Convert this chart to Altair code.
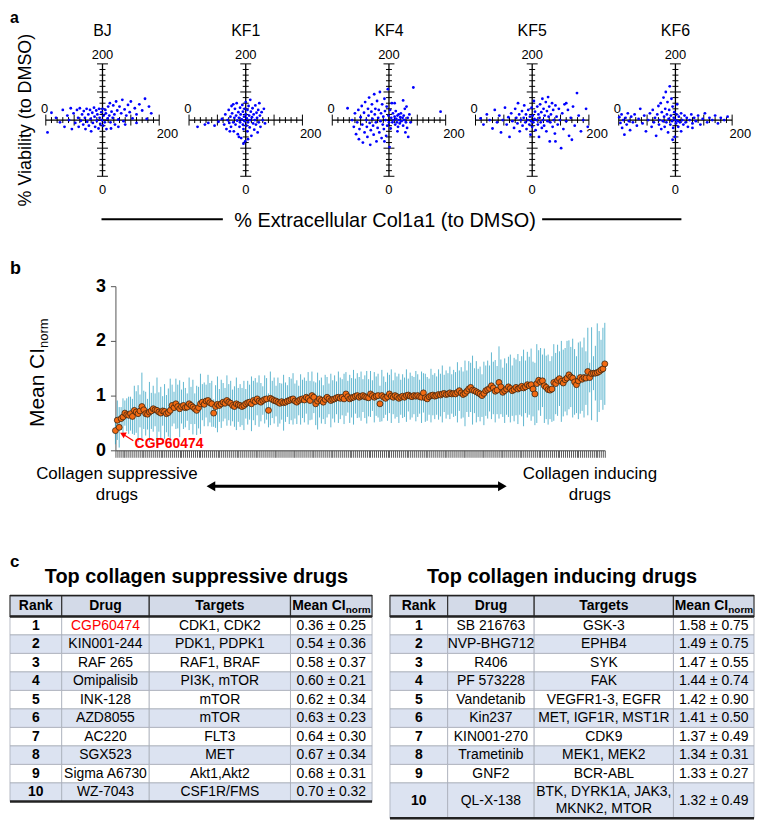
import altair as alt
import pandas as pd

FONT = "Liberation Sans"
ONE = pd.DataFrame({"k": [0]})

# ---------------- panel a : scatter data (x = % Col1a1, y = % viability) ----------------
panel_names = ["BJ", "KF1", "KF4", "KF5", "KF6"]
bj_pts = [(3,78),(10,113),(18,104),(25,96),(30,118),(33,88),(38,108),(41,100),(44,121),(46,84),(49,112),(52,95),
          (55,118),(57,104),(58,88),(60,121),(62,99),(64,110),(66,92),(67,116),(69,104),(70,84),(72,120),(73,97),
          (75,110),(76,90),(78,118),(79,102),(80,80),(82,113),(83,95),(85,122),(86,106),(87,88),(89,117),(90,99),
          (91,110),(93,85),(94,120),(95,104),(96,93),(98,114),(99,100),(100,120),(101,90),(102,108),(104,96),
          (105,118),(106,112),(107,84),(109,103),(110,124),(112,108),(113,130),(114,96),(116,115),(118,104),
          (119,126),(121,110),(122,92),(124,133),(126,117),(128,101),(130,124),(133,112),(135,136),(137,98),
          (139,119),(142,108),(145,127),(148,114),(150,133),(153,103),(157,121),(160,110),(165,128),(170,117),
          (175,138),(182,124),(186,112),(178,102),(160,95),(140,92),(128,88),(115,85)]
kf1_pts = [(15,88),(28,92),(34,95),(45,90),(52,97),(58,102),(62,92),(64,110),(66,84),(68,100),(70,118),(71,95),
           (73,106),(74,88),(75,125),(76,112),(78,96),(79,80),(80,104),(81,120),(82,92),(83,108),(84,130),(85,99),
           (86,75),(87,114),(88,104),(89,88),(90,122),(90,96),(91,110),(92,68),(93,101),(94,127),(95,92),(95,115),
           (96,84),(97,106),(98,120),(98,98),(99,62),(100,110),(100,132),(101,90),(102,103),(103,118),(103,80),
           (104,96),(105,125),(106,108),(107,87),(108,100),(109,115),(110,72),(111,105),(112,121),(113,94),
           (114,110),(115,83),(116,100),(117,126),(118,92),(119,113),(120,104),(121,78),(122,118),(123,96),
           (125,108),(126,88),(128,114),(130,100),(132,120),(134,94),(96,58),(88,70),(108,136),(124,130),
           (78,128),(104,66),(72,80)]
kf4_pts = [(27,121),(35,100),(38,88),(40,112),(42,75),(44,96),(46,118),(47,66),(48,84),(50,105),(52,125),(53,92),
           (54,60),(56,113),(57,78),(58,132),(60,100),(61,88),(62,70),(63,120),(64,108),(65,140),(66,95),(67,56),
           (68,82),(69,115),(70,128),(71,102),(72,90),(73,74),(74,146),(75,110),(76,120),(77,96),(78,62),(79,134),
           (80,86),(81,104),(82,118),(83,78),(84,150),(85,98),(86,112),(87,68),(88,128),(89,92),(90,106),(91,84),
           (92,138),(93,116),(94,100),(95,72),(96,124),(97,90),(98,155),(99,108),(100,96),(101,52),(102,118),
           (103,85),(104,104),(105,130),(106,96),(107,112),(108,100),(110,106),(111,92),(112,116),(113,102),
           (114,96),(115,108),(116,88),(117,110),(118,100),(119,94),(120,105),(121,112),(122,98),(124,104),
           (125,90),(126,108),(127,100),(128,120),(129,78),(130,96),(131,124),(132,86),(133,104),(134,70),
           (136,110),(138,96),(143,158),(191,115),(125,135),(110,130),(92,62),(115,80)]
kf5_pts = [(9,103),(14,92),(20,110),(25,100),(30,85),(34,118),(38,96),(42,108),(45,78),(48,100),(52,122),(55,92),
           (58,105),(60,70),(63,112),(65,98),(68,86),(70,120),(72,104),(74,94),(75,130),(77,110),(78,80),(80,100),
           (82,116),(83,90),(85,104),(86,126),(88,96),(89,110),(90,84),(92,100),(93,118),(95,92),(96,106),(97,74),
           (98,98),(99,122),(100,88),(101,108),(102,96),(103,134),(104,102),(105,115),(106,82),(108,100),(109,124),
           (110,92),(111,110),(112,70),(113,104),(114,128),(115,96),(116,114),(117,86),(118,138),(119,100),
           (120,120),(121,90),(122,108),(124,132),(125,80),(126,116),(127,98),(128,141),(129,106),(130,124),
           (131,62),(132,96),(133,110),(135,130),(136,88),(137,118),(138,100),(140,76),(141,126),(143,106),
           (145,92),(147,120),(149,100),(151,50),(153,112),(155,84),(157,128),(160,98),(163,118),(165,72),
           (168,104),(170,65),(172,124),(175,90),(179,148),(182,108),(186,80),(190,100),(195,120),(198,88),
           (141,62),(160,130)]
kf6_pts = [(1,105),(3,95),(5,110),(6,86),(8,100),(10,74),(12,104),(14,92),(16,112),(18,98),(20,82),(22,106),
           (25,96),(28,110),(32,90),(35,102),(38,120),(42,94),(45,108),(48,80),(52,100),(55,112),(58,88),(60,118),
           (62,96),(64,104),(66,72),(68,110),(70,125),(71,92),(72,100),(74,130),(75,84),(76,114),(78,98),(79,140),
           (80,106),(81,88),(82,120),(83,150),(84,96),(85,110),(86,132),(87,78),(88,102),(89,118),(90,160),(91,92),
           (92,108),(93,138),(94,98),(95,124),(96,86),(97,104),(98,114),(99,70),(100,100),(101,94),(102,110),
           (103,128),(104,98),(105,88),(106,106),(108,96),(110,112),(112,100),(114,92),(116,108),(118,96),
           (120,104),(122,88),(125,100),(128,110),(130,94),(133,104),(136,98),(140,108),(144,92),(148,102),
           (152,112),(156,96),(160,104),(165,100),(170,108),(175,94),(180,104),(186,100),(192,106),(110,80),
           (95,65),(130,86)]
panel_pts = [bj_pts, kf1_pts, kf4_pts, kf5_pts, kf6_pts]
axis_major = [0, 50, 100, 150, 200]
axis_minor = [10, 20, 30, 40, 60, 70, 80, 90, 110, 120, 130, 140, 160, 170, 180, 190]

# ---------------- panel b : mean CI_norm and SD per drug (ordered) ----------------
b_mean = [0.36,0.55,0.42,0.58,0.61,0.68,0.65,0.64,0.67,0.62,
          0.73,0.70,0.67,0.72,0.80,0.74,0.67,0.66,0.70,0.72,
          0.76,0.74,0.73,0.70,0.68,0.72,0.71,0.67,0.69,0.73,
          0.82,0.78,0.85,0.80,0.76,0.80,0.82,0.78,0.79,0.85,
          0.82,0.79,0.76,0.73,0.78,0.85,0.88,0.84,0.90,0.91,
          0.87,0.85,0.68,0.80,0.84,0.82,0.85,0.88,0.86,0.91,
          0.88,0.86,0.82,0.80,0.85,0.83,0.82,0.80,0.82,0.85,
          0.87,0.88,0.85,0.91,0.89,0.94,0.90,0.88,0.91,0.93,
          0.94,0.73,0.95,0.93,0.91,0.90,0.88,0.86,0.89,0.87,
          0.88,0.90,0.91,0.93,0.94,0.90,0.88,0.91,0.93,0.94,
          0.92,0.97,0.95,0.91,1.00,0.97,0.85,0.90,0.94,0.91,
          0.88,0.93,0.97,0.94,0.91,0.93,0.94,0.96,0.97,0.95,
          0.97,0.94,1.03,0.98,0.94,0.96,0.97,0.99,1.00,0.97,
          0.99,1.00,0.98,0.97,0.96,1.03,1.00,0.97,0.99,1.00,
          0.85,1.00,0.97,0.95,0.98,1.03,0.99,0.97,1.00,0.98,
          0.95,0.97,0.99,0.97,1.00,1.01,0.99,0.98,1.00,0.99,
          1.00,0.98,0.97,1.05,0.96,0.94,0.98,1.00,1.01,0.99,
          1.00,1.02,1.01,1.03,1.04,1.02,1.03,1.05,1.03,1.04,
          1.03,1.06,1.09,1.05,1.02,1.04,1.08,1.12,1.15,1.10,
          1.09,1.07,1.05,1.03,1.00,1.04,1.09,1.11,1.13,1.18,
          1.14,1.08,1.10,1.24,1.16,1.06,1.09,1.12,1.16,1.13,
          1.09,1.11,1.15,1.12,1.14,1.17,1.14,1.16,1.20,1.18,
          1.20,1.12,1.03,1.22,1.28,1.25,1.27,1.18,1.15,1.11,
          1.10,1.12,1.24,1.22,1.28,1.31,1.26,1.23,1.29,1.32,
          1.38,1.34,1.32,1.25,1.20,1.27,1.33,1.30,1.33,1.32,
          1.44,1.33,1.40,1.41,1.41,1.42,1.44,1.47,1.49,1.58]
b_sd = [0.25,0.36,0.37,0.21,0.34,0.23,0.30,0.34,0.31,0.32,
        0.45,0.38,0.52,0.30,0.62,0.35,0.40,0.28,0.55,0.33,
        0.42,0.30,0.60,0.36,0.48,0.27,0.50,0.34,0.44,0.58,
        0.38,0.29,0.46,0.40,0.52,0.31,0.43,0.36,0.25,0.48,
        0.34,0.50,0.28,0.45,0.38,0.55,0.33,0.40,0.30,0.47,
        0.36,0.42,0.25,0.39,0.51,0.30,0.44,0.35,0.28,0.46,
        0.33,0.41,0.29,0.37,0.48,0.31,0.39,0.34,0.45,0.27,
        0.40,0.32,0.50,0.36,0.43,0.30,0.47,0.35,0.26,0.44,
        0.38,0.31,0.49,0.34,0.42,0.28,0.45,0.37,0.33,0.51,
        0.36,0.29,0.43,0.38,0.47,0.32,0.40,0.27,0.46,0.35,
        0.41,0.30,0.48,0.36,0.44,0.29,0.39,0.52,0.34,0.42,
        0.31,0.45,0.37,0.28,0.49,0.35,0.43,0.30,0.47,0.38,
        0.33,0.46,0.40,0.29,0.44,0.36,0.50,0.32,0.41,0.37,
        0.45,0.30,0.39,0.48,0.34,0.42,0.28,0.46,0.36,0.40,
        0.33,0.47,0.38,0.30,0.44,0.35,0.49,0.31,0.42,0.37,
        0.45,0.32,0.40,0.36,0.48,0.30,0.43,0.38,0.34,0.46,
        0.39,0.31,0.47,0.36,0.44,0.40,0.33,0.49,0.37,0.42,
        0.35,0.46,0.39,0.52,0.34,0.44,0.38,0.48,0.36,0.43,
        0.40,0.55,0.37,0.47,0.42,0.60,0.38,0.51,0.45,0.63,
        0.41,0.56,0.44,0.50,0.39,0.58,0.46,0.53,0.42,0.61,
        0.48,0.57,0.44,0.66,0.50,0.45,0.59,0.47,0.55,0.62,
        0.46,0.58,0.51,0.64,0.49,0.55,0.70,0.48,0.60,0.53,
        0.66,0.50,0.57,0.72,0.55,0.62,0.48,0.68,0.58,0.64,
        0.53,0.60,0.70,0.56,0.65,0.50,0.74,0.61,0.58,0.68,
        0.63,0.55,0.72,0.60,0.52,0.70,0.66,0.58,0.73,0.49,
        0.80,0.27,0.85,0.31,0.50,0.90,0.74,0.55,0.75,0.75]

# ---------------- panel c : tables ----------------
sup_drugs = ["CGP60474", "KIN001-244", "RAF 265", "Omipalisib", "INK-128", "AZD8055", "AC220", "SGX523",
             "Sigma A6730", "WZ-7043"]
sup_targets = ["CDK1, CDK2", "PDK1, PDPK1", "RAF1, BRAF", "PI3K, mTOR", "mTOR", "mTOR", "FLT3", "MET",
               "Akt1,Akt2", "CSF1R/FMS"]
sup_mean = [0.36, 0.54, 0.58, 0.60, 0.62, 0.63, 0.64, 0.67, 0.68, 0.70]
sup_sd = [0.25, 0.36, 0.37, 0.21, 0.34, 0.23, 0.30, 0.34, 0.31, 0.32]
ind_drugs = ["SB 216763", "NVP-BHG712", "R406", "PF 573228", "Vandetanib", "Kin237", "KIN001-270",
             "Trametinib", "GNF2", "QL-X-138"]
ind_targets = ["GSK-3", "EPHB4", "SYK", "FAK", "VEGFR1-3, EGFR", "MET, IGF1R, MST1R", "CDK9", "MEK1, MEK2",
               "BCR-ABL", "BTK, DYRK1A, JAK3,\nMKNK2, MTOR"]
ind_mean = [1.58, 1.49, 1.47, 1.44, 1.42, 1.41, 1.37, 1.34, 1.33, 1.32]
ind_sd = [0.75, 0.75, 0.55, 0.74, 0.90, 0.50, 0.49, 0.31, 0.27, 0.49]

# ---------------- layout / style constants ----------------
PA_W, PA_H = 114, 113
PB_W, PB_H = 492, 165
BLUE = "#0000FF"
ORANGE = "#F26A12"
TEAL = "#2A9EC0"
HEADER_BG = "#D3DAE8"
ALT_BG = "#DCE3F1"


def txt(text, x, y, size, weight="normal", color="black", align="center", baseline="alphabetic", angle=0):
    return alt.Chart(ONE).mark_text(text=text, fontSize=size, fontWeight=weight, color=color, align=align,
                                    baseline=baseline, angle=angle, font=FONT).encode(
        x=alt.value(x), y=alt.value(y))


def scatter_panel(name, pts, extra=()):
    df = pd.DataFrame(pts, columns=["col", "via"])
    xs = alt.Scale(domain=[0, 200], nice=False, zero=False)
    ys = alt.Scale(domain=[0, 200], nice=False, zero=False)
    ky = 200.0 / PA_H
    kx = 200.0 / PA_W
    dots = alt.Chart(df).mark_circle(size=8, color=BLUE, opacity=1).encode(
        x=alt.X("col:Q", scale=xs, axis=None), y=alt.Y("via:Q", scale=ys, axis=None))
    hline = alt.Chart(ONE).mark_rule(color="black", strokeWidth=1.3).encode(
        x=alt.XDatum(0, axis=None), x2=alt.X2Datum(200), y=alt.YDatum(100, axis=None))
    vline = alt.Chart(ONE).mark_rule(color="black", strokeWidth=1.3).encode(
        y=alt.YDatum(0, axis=None), y2=alt.Y2Datum(200), x=alt.XDatum(100, axis=None))
    layers = [hline, vline]
    for vals, half in ((axis_minor, 3.0), (axis_major, 5.5)):
        tdf = pd.DataFrame({"t": vals})
        layers.append(alt.Chart(tdf).mark_rule(color="black", strokeWidth=1).encode(
            x=alt.X("t:Q", axis=None), y=alt.YDatum(100 - half * ky, axis=None),
            y2=alt.Y2Datum(100 + half * ky)))
        layers.append(alt.Chart(tdf).mark_rule(color="black", strokeWidth=1).encode(
            y=alt.Y("t:Q", axis=None), x=alt.XDatum(100 - half * kx, axis=None),
            x2=alt.X2Datum(100 + half * kx)))

    def lab(text, xd, yd, dx, dy, size=13):
        return alt.Chart(ONE).mark_text(text=text, fontSize=size, dx=dx, dy=dy, align="center",
                                        baseline="alphabetic", font=FONT, color="black").encode(
            x=alt.XDatum(xd, axis=None), y=alt.YDatum(yd, axis=None))

    layers += [lab("200", 100, 200, 0, -5.3), lab("0", 100, 0, 0, 18.3), lab("0", 0, 100, -1.3, -6.7),
               lab("200", 200, 100, 8.3, 18), lab(name, 100, 200, 0, -27.7, 16)]
    layers.append(dots)
    layers += list(extra)
    return alt.layer(*layers).properties(width=PA_W, height=PA_H)


# ---- row a ----
spacer_a = alt.layer(
    txt("a", 0, -41, 16, "bold", align="left"),
    txt("% Viability (to DMSO)", 21.5, 56.5, 18, angle=270),
).properties(width=6, height=PA_H)

xtitle_layers = [
    txt("% Extracellular Col1a1 (to DMSO)", 53, 164, 20),
    alt.Chart(ONE).mark_rule(color="black", strokeWidth=2).encode(
        x=alt.value(-232), x2=alt.value(-110), y=alt.value(156.3)),
    alt.Chart(ONE).mark_rule(color="black", strokeWidth=2).encode(
        x=alt.value(211), x2=alt.value(351), y=alt.value(156.3)),
]
panels = []
for idx, (nm, pts) in enumerate(zip(panel_names, panel_pts)):
    panels.append(scatter_panel(nm, pts, xtitle_layers if idx == 2 else ()))
row_a = alt.HConcatChart(hconcat=[spacer_a] + panels, spacing=30, bounds="flush")

# ---- row b ----
N = len(b_mean)
dfb = pd.DataFrame({"i": list(range(N)), "m": b_mean, "s": b_sd})
xsb = alt.Scale(domain=[0, N - 1], nice=False, zero=False)
ysb = alt.Scale(domain=[0, 3], nice=False)
xax = alt.Axis(values=list(range(N)), labels=False, tickSize=7, tickColor="#333", tickWidth=0.8,
               domainColor="#444", domainWidth=1, grid=False)
yax = alt.Axis(values=[0, 1, 2, 3], format="d", labelFontSize=18, labelFontWeight="bold", labelColor="black",
               tickSize=5, tickColor="#555", domainColor="#555", domainWidth=1, labelPadding=5, grid=False)
bars = alt.Chart(dfb).transform_calculate(lo="datum.m - datum.s", hi="datum.m + datum.s").mark_rule(
    color=TEAL, strokeWidth=0.75).encode(
    x=alt.X("i:Q", scale=xsb, axis=xax, title=None),
    y=alt.Y("lo:Q", scale=ysb, axis=yax, title=None), y2="hi:Q")
dots_b = alt.Chart(dfb).mark_circle(size=36, color=ORANGE, stroke="#3d2410", strokeWidth=0.8, opacity=1).encode(
    x=alt.X("i:Q", scale=xsb, axis=xax, title=None),
    y=alt.Y("m:Q", scale=ysb, axis=yax, title=None))
b_ann = [
    txt("Mean CI", -72, 141.5, 21, angle=270, align="left"),
    txt("norm", -68, 62.1, 13, angle=270, align="left"),
    txt("CGP60474", 19.3, 162.8, 14, "bold", color="#FF0000", align="left"),
    alt.Chart(ONE).mark_rule(color="#FF0000", strokeWidth=1.2).encode(
        x=alt.value(7.3), x2=alt.value(18), y=alt.value(148.6), y2=alt.value(155.5)),
    alt.Chart(ONE).mark_point(shape="triangle-up", filled=True, color="#FF0000", size=45, angle=298,
                              opacity=1).encode(x=alt.value(7.3), y=alt.value(148.6)),
    txt("Collagen suppressive", 1.5, 194, 17),
    txt("drugs", 1.5, 215, 17),
    txt("Collagen inducing", 477, 194, 17),
    txt("drugs", 477, 215, 17),
    alt.Chart(ONE).mark_rule(color="black", strokeWidth=3).encode(
        x=alt.value(96), x2=alt.value(389), y=alt.value(201.2)),
    alt.Chart(ONE).mark_point(shape="triangle-left", filled=True, color="black", size=100, opacity=1).encode(
        x=alt.value(96), y=alt.value(201.2)),
    alt.Chart(ONE).mark_point(shape="triangle-right", filled=True, color="black", size=100, opacity=1).encode(
        x=alt.value(389), y=alt.value(201.2)),
]
main_b = alt.layer(bars, dots_b, *b_ann).properties(width=PB_W, height=PB_H)
spacer_b = txt("b", 0, -12, 18, "bold", align="left").properties(width=106, height=PB_H)
row_b = alt.HConcatChart(hconcat=[spacer_b, main_b], spacing=0, bounds="flush")


# ---- row c ----
def make_table(title, drugs, targets, means, sds, col_w, row_h, title_cx, label=None):
    W = sum(col_w)
    H = sum(row_h)
    ce = [0]
    for w in col_w:
        ce.append(ce[-1] + w)
    re_ = [0]
    for h in row_h:
        re_.append(re_[-1] + h)
    cen = [(ce[c] + ce[c + 1]) / 2 for c in range(4)]
    cells, tb, tr = [], [], []
    for r in range(len(row_h)):
        y0, y1 = re_[r], re_[r + 1]
        bg = HEADER_BG if r == 0 else (ALT_BG if r % 2 == 0 else "#FFFFFF")
        for c in range(4):
            cells.append({"x0": ce[c], "x1": ce[c + 1], "y0": y0, "y1": y1, "bg": bg, "hdr": r == 0})
        ym = (y0 + y1) / 2
        if r == 0:
            for c, h in enumerate(["Rank", "Drug", "Targets"]):
                tb.append({"px": cen[c], "py": ym, "t": h, "col": "black"})
            continue
        k = r - 1
        tb.append({"px": cen[0], "py": ym, "t": str(r), "col": "black"})
        tr.append({"px": cen[1], "py": ym, "t": drugs[k], "col": "#FF0000" if drugs[k] == "CGP60474" else "black"})
        lines = targets[k].split("\n")
        for j, ln in enumerate(lines):
            tr.append({"px": cen[2], "py": ym + (j - (len(lines) - 1) / 2) * 17, "t": ln, "col": "black"})
        tr.append({"px": cen[3], "py": ym, "t": f"{means[k]:.2f} \u00b1 {sds[k]:.2f}", "col": "black"})
    xs = alt.Scale(domain=[0, W], nice=False, zero=False)
    ys = alt.Scale(domain=[0, H], nice=False, zero=False, reverse=True)
    cdf = pd.DataFrame(cells)
    enc_rect = dict(x=alt.X("x0:Q", scale=xs, axis=None), x2="x1:Q",
                    y=alt.Y("y0:Q", scale=ys, axis=None), y2="y1:Q",
                    fill=alt.Fill("bg:N", scale=None))
    body = alt.Chart(cdf).transform_filter("!datum.hdr").mark_rect(stroke="#A8ADB8", strokeWidth=0.8).encode(
        **enc_rect)
    head = alt.Chart(cdf).transform_filter("datum.hdr").mark_rect(stroke="#333333", strokeWidth=1.2).encode(
        **enc_rect)
    hl = pd.DataFrame({"yy": [0, re_[1], H], "w": [1.5, 2.5, 2.5]})
    hlines = alt.Chart(hl).mark_rule(color="#222222").encode(
        x=alt.XDatum(0, scale=xs, axis=None), x2=alt.X2Datum(W),
        y=alt.Y("yy:Q", scale=ys, axis=None), strokeWidth=alt.StrokeWidth("w:Q", scale=None))

    def tlayer(rows, weight, size):
        d = pd.DataFrame(rows)
        return alt.Chart(d).mark_text(fontSize=size, fontWeight=weight, baseline="middle", align="center",
                                      font=FONT).encode(
            x=alt.X("px:Q", scale=xs, axis=None), y=alt.Y("py:Q", scale=ys, axis=None), text="t:N",
            color=alt.Color("col:N", scale=None))

    hy = re_[1] / 2
    mean_hdr = alt.Chart(ONE).mark_text(text="Mean CI", fontSize=14, fontWeight="bold", align="right",
                                        baseline="middle", font=FONT, color="black").encode(
        x=alt.XDatum(cen[3] + 14.4, scale=xs, axis=None), y=alt.YDatum(hy, scale=ys, axis=None))
    norm_hdr = alt.Chart(ONE).mark_text(text="norm", fontSize=10, fontWeight="bold", align="left",
                                        baseline="middle", font=FONT, color="black", dy=4).encode(
        x=alt.XDatum(cen[3] + 14.6, scale=xs, axis=None), y=alt.YDatum(hy, scale=ys, axis=None))
    layers = [body, head, hlines, tlayer(tb, "bold", 14), tlayer(tr, "normal", 14), mean_hdr, norm_hdr,
              txt(title, title_cx, -12.7, 20, "bold")]
    if label:
        layers.append(txt(label, 0, -29, 17, "bold", align="left"))
    return alt.layer(*layers).properties(width=W, height=H)


table_l = make_table("Top collagen suppressive drugs", sup_drugs, sup_targets, sup_mean, sup_sd,
                     [52, 88, 142, 82], [21] + [18.6] * 10, 187.5, "c")
table_r = make_table("Top collagen inducing drugs", ind_drugs, ind_targets, ind_mean, ind_sd,
                     [58, 87, 140, 81], [21] + [18.6] * 9 + [35.6], 173)
row_c = alt.HConcatChart(hconcat=[table_l, table_r], spacing=18, bounds="flush")

# outer stacks use full bounds; spacing measured between the rows' full extents
top = alt.VConcatChart(vconcat=[row_a, row_b], spacing=29.5)
chart = alt.VConcatChart(vconcat=[top, row_c], spacing=49.5, padding=0).configure(
    font=FONT).configure_view(stroke=None)

chart.save("out.html", embed_options={"renderer": "svg", "actions": False})
